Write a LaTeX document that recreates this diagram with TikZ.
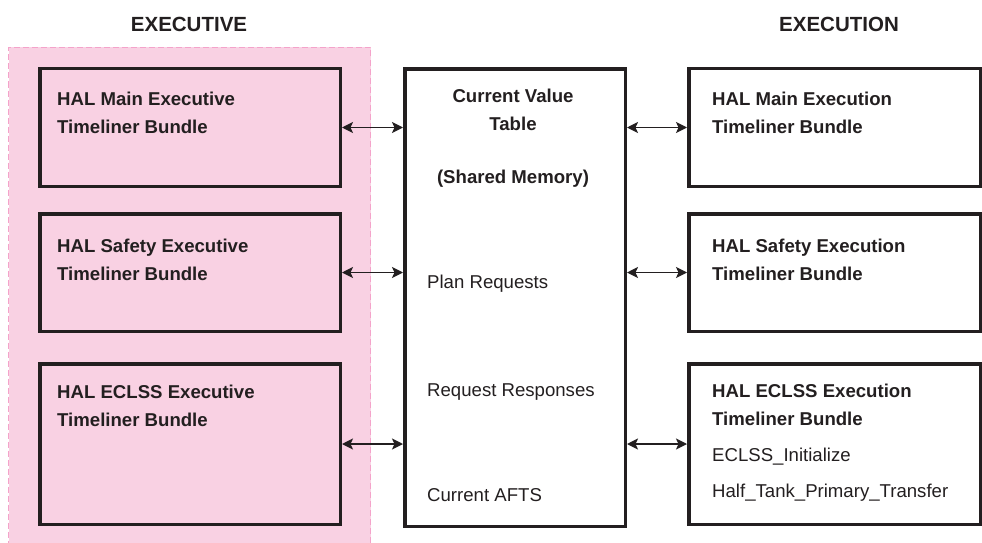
\documentclass[tikz,border=0pt]{standalone}
\usepackage{fontspec}
\setmainfont{Liberation Sans}
\usepackage{tikz}
\usetikzlibrary{arrows.meta,positioning,calc}
\definecolor{zonefill}{HTML}{F9D1E3}
\definecolor{zonedash}{HTML}{F4A3CA}
\definecolor{inkline}{HTML}{231F20}
\tikzset{
  zonebox/.style={
    draw=zonedash,
    fill=zonefill,
    dash pattern=on 6pt off 3pt,
    line width=1pt,
    anchor=north west,
    inner sep=0pt
  },
  halbox/.style={
    draw=inkline,
    line width=3.5pt,
    anchor=north west,
    inner sep=0pt,
    minimum width=300.5pt,
    minimum height=117.5pt
  },
  cvtbox/.style={
    draw=inkline,
    fill=white,
    line width=3.5pt,
    inner sep=0pt,
    minimum width=220.5pt,
    minimum height=457.5pt
  },
  boxtext/.style={
    text=inkline,
    anchor=base west,
    align=left,
    inner sep=0pt,
    font=\fontsize{18.6}{28}\selectfont
  },
  boldtext/.style={
    boxtext,
    font=\fontsize{18.6}{28}\selectfont\bfseries
  },
  titletext/.style={
    text=inkline,
    anchor=base,
    inner sep=0pt,
    font=\fontsize{20.5}{24}\selectfont\bfseries
  },
  duplexarrow/.style={{Stealth[length=11pt,width=11pt,inset=2.5pt]}-{Stealth[length=11pt,width=11pt,inset=2.5pt]}, line width=1.6pt, draw=inkline}
}

\begin{document}
\begin{tikzpicture}[x=1pt,y=-1pt]
  \useasboundingbox[fill=white] (0,0) rectangle (982,543);
  \clip (0,0) rectangle (982,543);

  % executive side
  \node[zonebox,minimum width=362pt,minimum height=520pt] (zone) at (8,47) {};
  \node[titletext] (ttlexec) at (189,31.5) {EXECUTIVE};

  \node[halbox] (exec1) at (38,67) {};
  \node[halbox,below=24pt of exec1] (exec2) {};
  \node[halbox,below=29pt of exec2,minimum height=160.5pt] (exec3) {};
  % base anchor sits on the last line
  \node[boldtext] (exec1txt) at ([xshift=19pt,yshift=-66pt]exec1.north west) {HAL Main Executive\\Timeliner Bundle};
  \node[boldtext] (exec2txt) at ([xshift=19pt,yshift=-68pt]exec2.north west) {HAL Safety Executive\\Timeliner Bundle};
  \node[boldtext] (exec3txt) at ([xshift=19pt,yshift=-64pt]exec3.north west) {HAL ECLSS Executive\\Timeliner Bundle};

  % shared memory
  \node[cvtbox,right=61pt of exec1.north east,anchor=north west] (cvt) {};
  \node[boldtext,anchor=base,align=center] (cvttitle) at ([xshift=-2pt,yshift=-116pt]cvt.north) {Current Value\\Table\\[25pt](Shared Memory)};
  \node[boxtext] (cvtitems) at ([xshift=24pt,yshift=-434pt]cvt.north west) {Plan Requests\\[80pt]Request Responses\\[77pt]Current AFTS};

  % execution side
  \node[titletext] (ttlexecn) at (839,31.5) {EXECUTION};
  \node[halbox,minimum width=291.5pt,right=60pt of cvt.north east,anchor=north west] (rexec1) {};
  \node[halbox,minimum width=291.5pt,below=24pt of rexec1] (rexec2) {};
  \node[halbox,minimum width=291.5pt,below=29pt of rexec2,minimum height=160.5pt] (rexec3) {};
  \node[boldtext] (rexec1txt) at ([xshift=25pt,yshift=-66pt]rexec1.north west) {HAL Main Execution\\Timeliner Bundle};
  \node[boldtext] (rexec2txt) at ([xshift=25pt,yshift=-68pt]rexec2.north west) {HAL Safety Execution\\Timeliner Bundle};
  \node[boxtext] (rexec3txt) at ([xshift=25pt,yshift=-135pt]rexec3.north west) {\textbf{HAL ECLSS Execution}\\\textbf{Timeliner Bundle}\\[8pt]ECLSS\_Initialize\\[8pt]Half\_Tank\_Primary\_Transfer};

  % links
  \draw[duplexarrow] (exec1.east) -- (exec1.east -| cvt.west);
  \draw[duplexarrow] (exec2.east) -- (exec2.east -| cvt.west);
  \draw[duplexarrow] (exec3.east) -- (exec3.east -| cvt.west);
  \draw[duplexarrow] (cvt.east |- rexec1.west) -- (rexec1.west);
  \draw[duplexarrow] (cvt.east |- rexec2.west) -- (rexec2.west);
  \draw[duplexarrow] (cvt.east |- rexec3.west) -- (rexec3.west);
\end{tikzpicture}
\end{document}
